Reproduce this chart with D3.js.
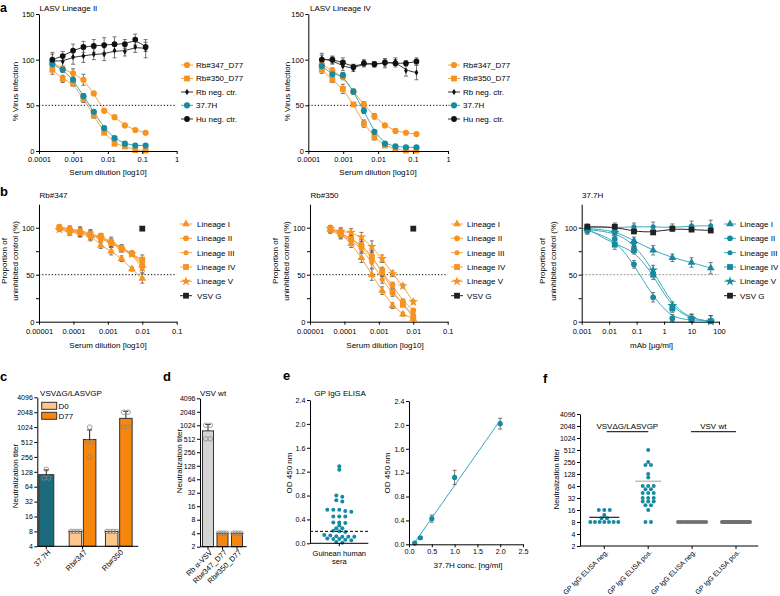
<!DOCTYPE html>
<html><head><meta charset="utf-8">
<script src="https://cdn.jsdelivr.net/npm/d3@7"></script>
<style>body{margin:0;background:#fff}svg{display:block}</style>
</head><body>
<script>
// ================= DATA =================
// Panel a: serum dilutions (2-fold, 1/4096 .. 1/8)
const aDilutions = [1/4096,1/2048,1/1024,1/512,1/256,1/128,1/64,1/32,1/16,1/8];
const aXTicks = [0.0001,0.001,0.01,0.1,1];
const aXLabels = ["0.0001","0.001","0.01","0.1","1"];
// LASV Lineage II
const aII_rb347 = [97,90,85,78,63,44,37,28,23,20];
const aII_rb347_sd = [4,3,5,6,2,2,2,1,1,1];
const aII_rb350 = [89,79,74,57,39,20,8,5,1,0.5];
const aII_rb350_sd = [5,4,3,4,3,2,2,1,1,0.5];
const aII_rbneg = [99,98,103,104,106,106,110,109,114,112];
const aII_rbneg_sd = [7,6,8,7,6,7,8,5,6,10];
const aII_377H = [95,89,78,60,43,25,14,8,6,6];
const aII_377H_sd = [4,3,3,3,2,2,2,1,1,1];
const aII_huneg = [100,104,110,114,115,116,117,117,122,114];
const aII_huneg_sd = [8,5,7,6,7,8,8,5,6,5];
// LASV Lineage IV
const aIV_rb347 = [95,88,81,65,51,38,28,22,20,18.5];
const aIV_rb347_sd = [4,3,3,3,3,3,2,2,1,1];
const aIV_rb350 = [89,78,68,51,30,15,6,2,0.5,0.5];
const aIV_rb350_sd = [4,3,5,2,4,3,2,1,0.5,0.5];
const aIV_rbneg = [101,99,93,90,96,95,96,98,88,86];
const aIV_rbneg_sd = [6,4,5,3,4,3,5,4,6,8];
const aIV_377H = [93,84,83,65,44,21,8,5,4,4];
const aIV_377H_sd = [3,3,3,2,3,2,1,1,1,1];
const aIV_huneg = [100,100,97,92,96,95,97,96,96,98];
const aIV_huneg_sd = [5,4,5,3,3,3,4,4,3,4];
const aLegend = ["Rb#347_D77","Rb#350_D77","Rb neg. ctr.","37.7H","Hu neg. ctr."];

// Panel b: serum dilutions (2-fold, 0.01/256 .. 0.01)
const bDilutions = [0.01/256,0.01/128,0.01/64,0.01/32,0.01/16,0.01/8,0.01/4,0.01/2,0.01];
const bXTicks = [0.00001,0.0001,0.001,0.01,0.1];
const bXLabels = ["0.00001","0.0001","0.001","0.01","0.1"];
const bLegend = ["Lineage I","Lineage II","Lineage III","Lineage IV","Lineage V","VSV G"];
// Rb#347
const b347_L1 = [100,98,96,92,81,75,67,56,46];
const b347_L2 = [101,99,97,94,89,84,78,73,60];
const b347_L3 = [99,96,95,92,90,86,79,73,63];
const b347_L4 = [100,97,95,93,91,84,78,72,66];
const b347_L5 = [98,95,94,90,89,83,77,72,57];
const b347_VSV = [null,null,null,null,null,null,null,null,99];
const b347_sd = [2,3,4,4,3,4,3,2,5];
// Rb#350
const b350_L1 = [98,94,83,68,50,33,17,8,3];
const b350_L2 = [98,95,88,82,70,52,39,22,12];
const b350_L3 = [97,92,86,78,63,45,30,19,7];
const b350_L4 = [99,93,88,80,68,54,32,18,5];
const b350_L5 = [99,96,95,90,80,67,51,38,21];
const b350_VSV = [null,null,null,null,null,null,null,null,99];
const b350_sd = [3,4,4,5,6,4,3,2,2];
// 37.7H mAb concentrations (µg/ml)
const bmAb = [0.0016,0.016,0.08,0.4,2,10,50];
const bmAbTicks = [0.001,0.01,0.1,1,10,100];
const bmAbLabels = ["0.001","0.01","0.1","1","10","100"];
const b377_L1 = [99,97,86,76,68,63,57];
const b377_L2 = [97,88,61,26,3.5,2,0.5];
const b377_L3 = [100,100,101,101,100,102,102];
const b377_L4 = [99,82,76,50,14,3,0.5];
const b377_L5 = [98,95,83,55,17,3,0.5];
const b377_VSV = [101,101,96,95,99,98,97];
const b377_sd = [4,5,4,5,4,5,6];

// Panel c: neutralization titers
const cGroups = ["37.7H","Rb#347","Rb#350"];
const c377H = [144,96,96];
const cD0_347 = [8,8,8,8];
const cD77_347 = [1024,512,512,256];
const cD0_350 = [8,8,8,8];
const cD77_350 = [2048,2048,1024,1024];
const log2Ticks = [2,4,8,16,32,64,128,256,512,1024,2048,4096];

// Panel d
const dGroups = ["Rb \u03b1-VSV","Rb#347_D77","Rb#350_D77"];
const dValues = [[1024,1024,512,512],[4,4,4,4],[4,4,4,4]];

// Panel e
const eSera = [1.29,1.23,0.80,0.78,0.72,0.70,0.56,0.56,0.56,0.54,0.53,0.45,0.45,0.45,0.35,0.35,0.34,0.30,0.25,0.25,0.21,0.20,0.19,0.14,0.13,0.12,0.11,0.11,0.11,0.08,0.07,0.07,0.06,0.05,0.02,0.01];
const eCutoff = 0.2;
const eYTicks = [0,0.4,0.8,1.2,1.6,2.0,2.4];
const eConc = [0.125,0.25,0.5,1,2];
const eOD = [0.02,0.11,0.43,1.12,2.02];
const eOD_sd = [0.01,0.02,0.06,0.12,0.09];
const eXTicks = [0,0.5,1.0,1.5,2.0,2.5];

// Panel f
const fCats = ["GP IgG ELISA neg.","GP IgG ELISA pos.","GP IgG ELISA neg.","GP IgG ELISA pos."];
const fLASV_neg = [16,16,16,12,10,10,8,8,8,8,8,8,8];
const fLASV_pos = [512,256,215,215,128,105,64,64,64,53,53,43,43,43,32,32,32,26,26,26,21,21,16,8,8];
const fVSV_neg = [8,8,8,8,8,8,8,8,8,8,8,8,8];
const fVSV_pos = [8,8,8,8,8,8,8,8,8,8,8,8,8,8,8,8,8,8,8,8,8,8,8,8,8];

// ================= STYLE / HELPERS =================
const FONT = "'Liberation Sans', Arial, Helvetica, sans-serif";
const TEAL = "#168aa0", TEAL_LINE = "#3aaabf", TEAL_DARK = "#1b6b7c";
const OR = "#f7931e", OR_LINE = "#f9a043", OR_D0 = "#fdc68a", OR_BAR = "#f7860f";
const ERR = "#555";

const svg = d3.select("body").append("svg").attr("width",780).attr("height",596)
  .attr("font-family",FONT);

function txt(x,y,s,o={}){
  const t = svg.append("text").attr("x",x).attr("y",y).text(s)
    .attr("font-size",o.fs||8).attr("fill",o.fill||"#000")
    .attr("text-anchor",o.anchor||"start");
  if(o.bold) t.attr("font-weight","bold");
  if(o.rot!=null) t.attr("transform",`rotate(${o.rot},${x},${y})`);
  return t;
}
function styleAxis(g,fs){
  g.attr("font-family",FONT).attr("font-size",fs);
  g.select(".domain").attr("stroke","#000").attr("stroke-width",1);
  g.selectAll(".tick line").attr("stroke","#000").attr("stroke-width",1);
  g.selectAll(".tick text").attr("fill","#000");
}
function errBar(g,x,yA,yB,cap,col,w){
  g.append("line").attr("x1",x).attr("x2",x).attr("y1",yA).attr("y2",yB).attr("stroke",col).attr("stroke-width",w||0.8);
  [yA,yB].forEach(yy=>g.append("line").attr("x1",x-cap).attr("x2",x+cap).attr("y1",yy).attr("y2",yy).attr("stroke",col).attr("stroke-width",w||0.8));
}
function upperErr(g,x,yMean,yTop,cap,col,w){
  g.append("line").attr("x1",x).attr("x2",x).attr("y1",yMean).attr("y2",yTop).attr("stroke",col).attr("stroke-width",w||1);
  g.append("line").attr("x1",x-cap).attr("x2",x+cap).attr("y1",yTop).attr("y2",yTop).attr("stroke",col).attr("stroke-width",w||1);
}

function curvePanel(p){
  const x = d3.scaleLog().domain(p.xDomain).range([p.left,p.right]);
  const y = d3.scaleLinear().domain(p.yDomain).range([p.bottom,p.top]);
  const g = svg.append("g");
  g.append("line").attr("x1",p.left).attr("x2",p.right).attr("y1",y(50)).attr("y2",y(50))
    .attr("stroke",p.refColor).attr("stroke-width",1).attr("stroke-dasharray",p.refDash);
  const all = p.series.map(s=>({s, pts:p.xs.map((xv,i)=>({x:xv,y:s.v[i],e:s.sd?s.sd[i]:0})).filter(d=>d.y!=null)}));
  all.forEach(({s,pts})=>{
    if(pts.length>1) g.append("path").datum(pts)
      .attr("d",d3.line().x(d=>x(d.x)).y(d=>y(d.y)).curve(d3.curveBasis))
      .attr("fill","none").attr("stroke",s.lc).attr("stroke-width",s.lw||1);
  });
  all.forEach(({s,pts})=>pts.forEach(d=>{
    if(d.e>0) errBar(g,x(d.x),y(d.y+d.e),y(Math.max(0,d.y-d.e)),2,ERR);
  }));
  all.forEach(({s,pts})=>{
    g.append("g").selectAll("path").data(pts).join("path")
      .attr("transform",d=>`translate(${x(d.x)},${y(d.y)})`)
      .attr("d",d3.symbol().type(s.sym).size(s.size)).attr("fill",s.c);
  });
  const ax = g.append("g").attr("transform",`translate(0,${p.bottom})`)
    .call(d3.axisBottom(x).tickValues(p.xTicks).tickFormat((d,i)=>p.xLabels[i]).tickSize(3).tickSizeOuter(0).tickPadding(p.xPad));
  const ay = g.append("g").attr("transform",`translate(${p.left},0)`)
    .call(d3.axisLeft(y).tickValues(p.yTicks).tickFormat(d=>p.yLabels.includes(d)?String(d):"").tickSize(3).tickSizeOuter(0).tickPadding(1.5));
  styleAxis(ax,p.tickFs); styleAxis(ay,p.tickFs);
  // legend
  p.series.forEach((s,i)=>{
    const yy = p.legend.ys[i];
    g.append("line").attr("x1",p.legend.cx-6).attr("x2",p.legend.cx+6).attr("y1",yy).attr("y2",yy).attr("stroke",s.lc).attr("stroke-width",1);
    g.append("path").attr("transform",`translate(${p.legend.cx},${yy})`).attr("d",d3.symbol().type(s.sym).size(s.size)).attr("fill",s.c);
    g.append("text").attr("x",p.legend.tx).attr("y",yy).attr("dy","0.35em").attr("font-size",8).text(p.legendNames[i]);
  });
}

// ================= PANEL a =================
function aSeries(rb347,rb347sd,rb350,rb350sd,rbneg,rbnegsd,t,tsd,hu,husd){
  return [
    {v:rb347,sd:rb347sd,c:OR,lc:OR_LINE,sym:d3.symbolCircle,size:30},
    {v:rb350,sd:rb350sd,c:OR,lc:OR_LINE,sym:d3.symbolSquare,size:34},
    {v:rbneg,sd:rbnegsd,c:"#111",lc:"#333",sym:d3.symbolDiamond,size:12},
    {v:t,sd:tsd,c:TEAL,lc:TEAL_LINE,sym:d3.symbolCircle,size:30},
    {v:hu,sd:husd,c:"#111",lc:"#333",sym:d3.symbolCircle,size:26}
  ];
}
const aLegYs = [65,78.5,92,105.3,119];
curvePanel({left:39,right:176.7,bottom:151,top:14,xDomain:[1e-4,1],yDomain:[0,150],
  xs:aDilutions,xTicks:aXTicks,xLabels:aXLabels,xPad:2.7,yTicks:[0,50,100,150],yLabels:[0,50,100,150],tickFs:7.5,
  refColor:"#000",refDash:"1.2,2",
  series:aSeries(aII_rb347,aII_rb347_sd,aII_rb350,aII_rb350_sd,aII_rbneg,aII_rbneg_sd,aII_377H,aII_377H_sd,aII_huneg,aII_huneg_sd),
  legend:{cx:187,tx:196,ys:aLegYs},legendNames:aLegend});
curvePanel({left:308.3,right:448,bottom:151,top:14,xDomain:[1e-4,1],yDomain:[0,150],
  xs:aDilutions,xTicks:aXTicks,xLabels:aXLabels,xPad:2.7,yTicks:[0,50,100,150],yLabels:[0,50,100,150],tickFs:7.5,
  refColor:"#000",refDash:"1.2,2",
  series:aSeries(aIV_rb347,aIV_rb347_sd,aIV_rb350,aIV_rb350_sd,aIV_rbneg,aIV_rbneg_sd,aIV_377H,aIV_377H_sd,aIV_huneg,aIV_huneg_sd),
  legend:{cx:454,tx:463,ys:aLegYs},legendNames:aLegend});
txt(0,11.5,"a",{fs:12.5,bold:true});
txt(39.5,11,"LASV Lineage II");
txt(310,11,"LASV Lineage IV");
txt(17.5,91.5,"% Virus infection",{anchor:"middle",rot:-90});
txt(290,91.5,"% Virus infection",{anchor:"middle",rot:-90});
txt(108,175,"Serum dilution [log10]",{anchor:"middle"});
txt(378,175,"Serum dilution [log10]",{anchor:"middle"});

// ================= PANEL b =================
function bSeries(col,lcol,L1,L2,L3,L4,L5,V,sd){
  return [
    {v:L1,sd:sd,c:col,lc:lcol,sym:d3.symbolTriangle,size:26},
    {v:L2,sd:sd,c:col,lc:lcol,sym:d3.symbolCircle,size:26},
    {v:L3,sd:sd,c:col,lc:lcol,sym:d3.symbolCircle,size:20},
    {v:L4,sd:sd,c:col,lc:lcol,sym:d3.symbolSquare,size:34},
    {v:L5,sd:sd,c:col,lc:lcol,sym:d3.symbolStar,size:30},
    {v:V,sd:null,c:"#222",lc:"#222",sym:d3.symbolSquare,size:34}
  ];
}
const bLegYs = [224,238.3,252.7,267,281.3,295.7];
const bCommon = {bottom:321.7,top:204.2,yDomain:[0,125],yTicks:[0,25,50,75,100],yLabels:[0,50,100],xPad:3.5,tickFs:7.5};
curvePanel(Object.assign({},bCommon,{left:39,right:176.7,xDomain:[1e-5,0.1],xs:bDilutions,xTicks:bXTicks,xLabels:bXLabels,
  refColor:"#000",refDash:"1.2,2",series:bSeries(OR,OR_LINE,b347_L1,b347_L2,b347_L3,b347_L4,b347_L5,b347_VSV,b347_sd),
  legend:{cx:186,tx:197,ys:bLegYs},legendNames:bLegend}));
curvePanel(Object.assign({},bCommon,{left:310,right:447.7,xDomain:[1e-5,0.1],xs:bDilutions,xTicks:bXTicks,xLabels:bXLabels,
  refColor:"#000",refDash:"1.2,2",series:bSeries(OR,OR_LINE,b350_L1,b350_L2,b350_L3,b350_L4,b350_L5,b350_VSV,b350_sd),
  legend:{cx:457,tx:467,ys:bLegYs},legendNames:bLegend}));
curvePanel(Object.assign({},bCommon,{left:581.7,right:719,xDomain:[0.001,100],xs:bmAb,xTicks:bmAbTicks,xLabels:bmAbLabels,
  refColor:"#999",refDash:"2,1.5",series:bSeries(TEAL,TEAL_LINE,b377_L1,b377_L2,b377_L3,b377_L4,b377_L5,b377_VSV,b377_sd),
  legend:{cx:730,tx:740,ys:bLegYs},legendNames:bLegend}));
txt(0,196,"b",{fs:13,bold:true});
txt(39.5,198,"Rb#347");
txt(310.5,198,"Rb#350");
txt(582,198,"37.7H");
[[7,17.5],[278,289],[545,556]].forEach(([x1,x2])=>{
  txt(x1,261,"Proportion of",{anchor:"middle",rot:-90});
  txt(x2,261,"uninhibited control  (%)",{anchor:"middle",rot:-90});
});
txt(108,348,"Serum dilution [log10]",{anchor:"middle"});
txt(385,348,"Serum dilution [log10]",{anchor:"middle"});
txt(651.5,348,"mAb [\u00b5g/ml]",{anchor:"middle"});

// ================= PANEL c =================
function log2YAxis(y,xAxis,fs){
  const ay = svg.append("g").attr("transform",`translate(${xAxis},0)`)
    .call(d3.axisLeft(y).tickValues(log2Ticks.filter(t=>t>=y.domain()[0]&&t<=y.domain()[1])).tickFormat(d=>String(d)).tickSize(3).tickSizeOuter(0).tickPadding(1.5));
  styleAxis(ay,fs);
}
function xLine(x1,x2,yy,ticks){
  svg.append("line").attr("x1",x1).attr("x2",x2).attr("y1",yy).attr("y2",yy).attr("stroke","#000").attr("stroke-width",1);
  ticks.forEach(t=>svg.append("line").attr("x1",t).attr("x2",t).attr("y1",yy).attr("y2",yy+3).attr("stroke","#000").attr("stroke-width",1));
}
function rotLabel(x,y,s,fs){
  svg.append("text").attr("transform",`translate(${x},${y}) rotate(-45)`).attr("text-anchor","end")
    .attr("dy","0.35em").attr("font-size",fs||7.5).text(s);
}
function barWithPoints(y,cx,w,vals,fill,base){
  const m = d3.mean(vals), sd = d3.deviation(vals)||0;
  svg.append("rect").attr("x",cx-w/2).attr("y",y(m)).attr("width",w).attr("height",y(base)-y(m))
    .attr("fill",fill).attr("stroke","#333").attr("stroke-width",1);
  if(sd>0) upperErr(svg.append("g"),cx,y(m),y(m+sd),2.5,"#222",1);
  const grp = d3.group(vals,v=>v);
  grp.forEach((arr,v)=>{ const n=arr.length; arr.forEach((_,i)=>{
    svg.append("circle").attr("cx",cx+(i-(n-1)/2)*Math.min(4.5,(w-3)/Math.max(1,n-1))).attr("cy",y(v)).attr("r",2.3)
      .attr("fill","none").attr("stroke","#888").attr("stroke-width",0.8);
  });});
}
const cy = d3.scaleLog().base(2).domain([4,4096]).range([546.3,397.3]);
const cx = d3.scalePoint().domain(cGroups).range([46.3,118.8]);
barWithPoints(cy,cx("37.7H"),15,c377H,TEAL_DARK,4);
barWithPoints(cy,cx("Rb#347")-7.1,12.5,cD0_347,OR_D0,4);
barWithPoints(cy,cx("Rb#347")+7.1,12.5,cD77_347,OR_BAR,4);
barWithPoints(cy,cx("Rb#350")-7.1,12.5,cD0_350,OR_D0,4);
barWithPoints(cy,cx("Rb#350")+7.1,12.5,cD77_350,OR_BAR,4);
log2YAxis(cy,37.3,7);
xLine(37.3,138.3,546.3,cGroups.map(g=>cx(g)));
cGroups.forEach(g=>rotLabel(cx(g)+3,551,g));
svg.append("rect").attr("x",41.7).attr("y",402.3).attr("width",15).attr("height",7).attr("fill",OR_D0).attr("stroke","#333");
svg.append("rect").attr("x",41.7).attr("y",412.3).attr("width",15).attr("height",7).attr("fill",OR_BAR).attr("stroke","#333");
txt(58.5,409,"D0"); txt(58.5,419,"D77");
txt(0,381,"c",{fs:13,bold:true});
txt(71,396,"VSV\u0394G/LASVGP",{anchor:"middle"});
txt(18,476,"Neutralization titer",{anchor:"middle",rot:-90});

// ================= PANEL d =================
const dy = d3.scaleLog().base(2).domain([2,4096]).range([546.7,398.3]);
const dx = d3.scalePoint().domain(dGroups).range([208,237]);
const dFill = ["#d4d4d4",OR_BAR,OR_BAR];
dGroups.forEach((g,i)=>barWithPoints(dy,dx(g),11,dValues[i],dFill[i],2));
log2YAxis(dy,200,7);
xLine(200,246.7,546.7,dGroups.map(g=>dx(g)));
dGroups.forEach(g=>rotLabel(dx(g)+3,551,g));
txt(163,381,"d",{fs:13,bold:true});
txt(213,396,"VSV wt",{anchor:"middle"});
txt(181.5,461,"Neutralization titer",{anchor:"middle",rot:-90});

// ================= PANEL e =================
const eyL = d3.scaleLinear().domain([0,2.4]).range([543.3,400]);
const eCx = 339.3;
const eSorted = eSera.slice().sort((a,b)=>b-a);
const eRows = [];
eSorted.forEach(v=>{ const r=eRows[eRows.length-1]; if(r && r.start-v<0.035) r.vals.push(v); else eRows.push({start:v,vals:[v]}); });
eRows.forEach(r=>{ const n=r.vals.length; r.vals.forEach((v,i)=>{
  svg.append("circle").attr("cx",eCx+(i-(n-1)/2)*6).attr("cy",eyL(v)).attr("r",2).attr("fill",TEAL);
});});
svg.append("line").attr("x1",310).attr("x2",368.3).attr("y1",eyL(eCutoff)).attr("y2",eyL(eCutoff))
  .attr("stroke","#000").attr("stroke-width",1).attr("stroke-dasharray","3,2");
const eAyL = svg.append("g").attr("transform","translate(310,0)")
  .call(d3.axisLeft(eyL).tickValues(eYTicks).tickFormat(d3.format(".1f")).tickSize(3).tickSizeOuter(0).tickPadding(1.5));
styleAxis(eAyL,7.2);
xLine(310,368.3,543.3,[eCx]);
txt(eCx,556,"Guinean human",{anchor:"middle",fs:7.5});
txt(eCx,564,"sera",{anchor:"middle",fs:7.5});
txt(283,380,"e",{fs:13,bold:true});
txt(340,396,"GP IgG ELISA",{anchor:"middle"});
txt(291.5,473,"OD 450 nm",{anchor:"middle",rot:-90});

const eyR = d3.scaleLinear().domain([0,2.4]).range([544.3,401]);
const exR = d3.scaleLinear().domain([0,2.5]).range([409,523]);
// least-squares line through the standard points
const mx = d3.mean(eConc), my = d3.mean(eOD);
const slope = d3.sum(eConc.map((v,i)=>(v-mx)*(eOD[i]-my)))/d3.sum(eConc.map(v=>(v-mx)*(v-mx)));
const icpt = my - slope*mx;
const xs0 = d3.min(eConc), xs1 = d3.max(eConc);
svg.append("line").attr("x1",exR(xs0)).attr("x2",exR(xs1)).attr("y1",eyR(Math.max(0,icpt+slope*xs0))).attr("y2",eyR(icpt+slope*xs1))
  .attr("stroke",TEAL_LINE).attr("stroke-width",1);
const eg = svg.append("g");
eConc.forEach((c,i)=>errBar(eg,exR(c),eyR(eOD[i]+eOD_sd[i]),eyR(Math.max(0,eOD[i]-eOD_sd[i])),2,ERR));
eConc.forEach((c,i)=>svg.append("circle").attr("cx",exR(c)).attr("cy",eyR(eOD[i])).attr("r",2.6).attr("fill",TEAL));
const eAyR = svg.append("g").attr("transform","translate(409,0)")
  .call(d3.axisLeft(eyR).tickValues(eYTicks).tickFormat(d3.format(".1f")).tickSize(3).tickSizeOuter(0).tickPadding(1.5));
styleAxis(eAyR,7.2);
const eAxR = svg.append("g").attr("transform","translate(0,544.3)")
  .call(d3.axisBottom(exR).tickValues(eXTicks).tickFormat(d3.format(".1f")).tickSize(3).tickSizeOuter(0).tickPadding(2));
styleAxis(eAxR,7.2);
txt(390,473,"OD 450 nm",{anchor:"middle",rot:-90});
txt(468,568,"37.7H conc. [ng/ml]",{anchor:"middle"});

// ================= PANEL f =================
const fy = d3.scaleLog().base(2).domain([2,4096]).range([546,414]);
const fx = d3.scalePoint().domain([0,1,2,3]).range([604.3,736]);
function fSwarm(vals,cxp,col){
  const grp = d3.group(vals,v=>v);
  grp.forEach((arr,v)=>{ const n=arr.length; const sp = n>1?Math.min(5.5,28/(n-1)):0;
    arr.forEach((_,i)=>svg.append("circle").attr("cx",cxp+(i-(n-1)/2)*sp).attr("cy",fy(v)).attr("r",2).attr("fill",col)); });
}
function fMean(vals,cxp,half,col){
  svg.append("line").attr("x1",cxp-half).attr("x2",cxp+half).attr("y1",fy(d3.mean(vals))).attr("y2",fy(d3.mean(vals)))
    .attr("stroke",col).attr("stroke-width",1.3);
}
fSwarm(fLASV_neg,fx(0),TEAL);
fSwarm(fLASV_pos,fx(1),TEAL);
fMean(fLASV_neg,fx(0),15,"#333");
fMean(fLASV_pos,fx(1),13,"#b5b5b5");
fSwarm(fVSV_neg,fx(2),"#707070");
fSwarm(fVSV_pos,fx(3),"#707070");
log2YAxis(fy,580,7);
xLine(580,758.3,546,[0,1,2,3].map(i=>fx(i)));
fCats.forEach((s,i)=>rotLabel(fx(i)+2.5,551,s,7));
svg.append("line").attr("x1",606.7).attr("x2",648.3).attr("y1",431.7).attr("y2",431.7).attr("stroke","#333").attr("stroke-width",1.2);
svg.append("line").attr("x1",691).attr("x2",736).attr("y1",431.7).attr("y2",431.7).attr("stroke","#333").attr("stroke-width",1.2);
txt(627.3,428.5,"VSV\u0394G/LASVGP",{anchor:"middle"});
txt(713.3,428.5,"VSV wt",{anchor:"middle"});
txt(543,383,"f",{fs:13,bold:true});
txt(558.5,479,"Neutralization titer",{anchor:"middle",rot:-90,fs:7.5});
</script>
</body></html>
